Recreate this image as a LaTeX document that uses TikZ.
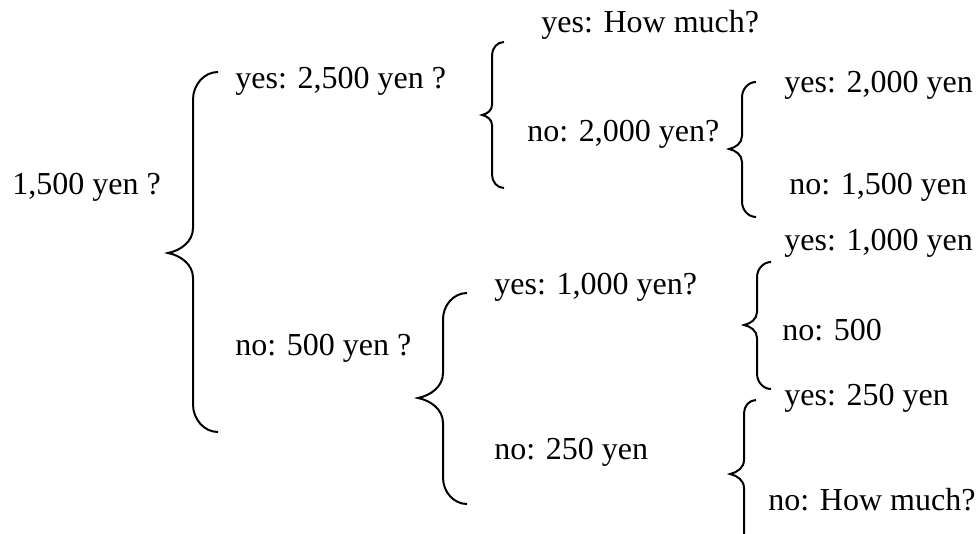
\documentclass[tikz,border=0pt]{standalone}
\usepackage{fontspec}
\setmainfont{Liberation Serif}
\usetikzlibrary{calc}

% curly brace: end x, stem x, tip x, top y, tip y, bottom y
\newcommand{\yenbrace}[6]{%
  \draw[curl] (#1,#4)
    .. controls ({#1-0.55*(#1-#2)},#4) and (#2,{#4+0.5*(#1-#2)}) .. (#2,{#4+1.1*(#1-#2)})
    -- (#2,{#5-(#2-#3)})
    .. controls (#2,{#5-0.45*(#2-#3)}) and ({#3+0.5*(#2-#3)},{#5-0.1*(#2-#3)}) .. (#3,#5)
    .. controls ({#3+0.5*(#2-#3)},{#5+0.1*(#2-#3)}) and (#2,{#5+0.45*(#2-#3)}) .. (#2,{#5+(#2-#3)})
    -- (#2,{#6-1.1*(#1-#2)})
    .. controls (#2,{#6-0.5*(#1-#2)}) and ({#1-0.55*(#1-#2)},#6) .. (#1,#6);}

\begin{document}
\begin{tikzpicture}[
    x=0.5pt, y=-0.5pt,
    lbl/.style={anchor=base west, inner sep=0pt, font=\fontsize{16}{19}\selectfont},
    curl/.style={draw, line width=1pt}
]
    \useasboundingbox (0,0) rectangle (979,534);

    % Question
    \node[lbl] (start) at (12,195) {1,500 yen ?};

    % First answer
    \node[lbl] (yes) at (235,89) {yes: 2,500 yen ?};
    \node[lbl] (no) at (235,355) {no: 500 yen ?};

    % Second answer
    \node[lbl] (yesyes) at (541,33) {yes: How much?};
    \node[lbl] (yesno) at (527,142) {no: 2,000 yen?};
    \node[lbl] (noyes) at (494,294) {yes: 1,000 yen?};
    \node[lbl] (nono) at (494,459) {no: 250 yen};

    % Third answer
    \node[lbl] (yesnoyes) at (784,93) {yes: 2,000 yen};
    \node[lbl] (yesnono) at (789,195) {no: 1,500 yen};
    \node[lbl] (noyesyes) at (784,250) {yes: 1,000 yen};
    \node[lbl] (noyesno) at (782,340) {no: 500};
    \node[lbl] (nonoyes) at (784,405) {yes: 250 yen};
    \node[lbl] (nonono) at (768,510) {no: How much?};

    % Braces
    \yenbrace{218}{193}{168}{72}{253}{432}
    \yenbrace{504}{492}{482}{42}{115}{188}
    \yenbrace{467}{443}{418}{293}{398}{504}
    \yenbrace{756}{742}{729}{82}{149}{217}
    \yenbrace{771}{757}{744}{262}{325}{389}
    \yenbrace{756}{744}{730}{400}{474}{548}

\end{tikzpicture}
\end{document}
